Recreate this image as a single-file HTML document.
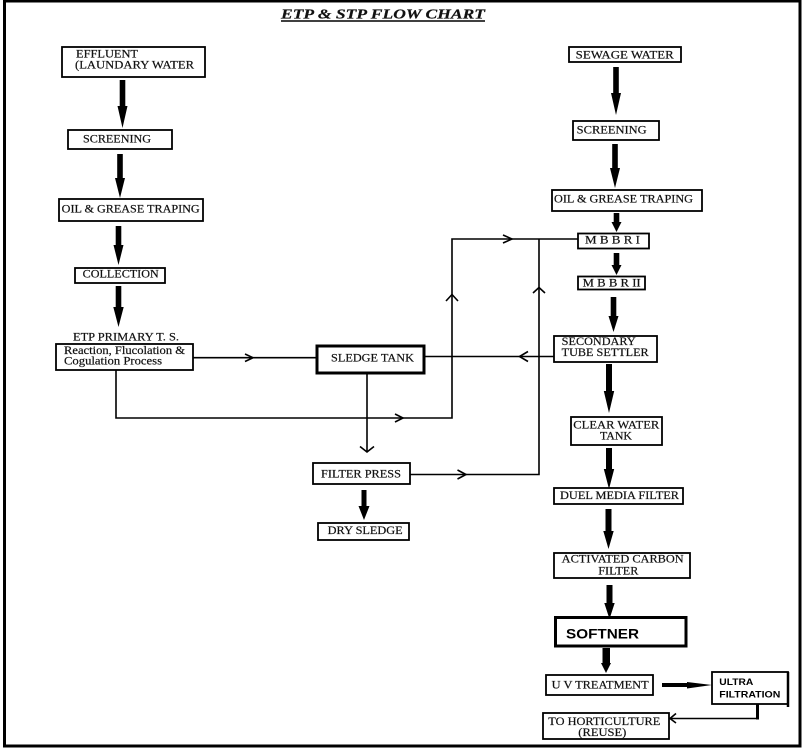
<!DOCTYPE html>
<html>
<head>
<meta charset="utf-8">
<style>
html,body{margin:0;padding:0;background:#fff;}
svg{display:block;}
text{font-family:"Liberation Serif",serif;fill:#111;stroke:#111;stroke-width:0.2;}
.s{font-family:"Liberation Sans",sans-serif;font-weight:bold;fill:#000;stroke:none;}
</style>
</head>
<body>
<svg width="805" height="748" viewBox="0 0 805 748" xmlns="http://www.w3.org/2000/svg">
<rect x="0" y="0" width="805" height="748" fill="#fff"/>
<!-- outer border -->
<rect x="4.5" y="1" width="795.5" height="745" fill="none" stroke="#000" stroke-width="3"/>

<!-- title -->
<text x="281" y="18.5" font-size="14" font-weight="bold" font-style="italic" textLength="204" lengthAdjust="spacingAndGlyphs">ETP &amp; STP FLOW CHART</text>
<line x1="281" y1="21" x2="485" y2="21" stroke="#000" stroke-width="1.6"/>

<g fill="none" stroke="#000" stroke-width="1.8">
<!-- left boxes -->
<rect x="62" y="47" width="143" height="30"/>
<rect x="68" y="130" width="104" height="19"/>
<rect x="59" y="199" width="144" height="22"/>
<rect x="75" y="268" width="90" height="15"/>
<rect x="56" y="344" width="137" height="26"/>
<rect x="313" y="463" width="97" height="21"/>
<rect x="318" y="523" width="91" height="17"/>
<!-- right boxes -->
<rect x="569" y="47" width="112" height="15"/>
<rect x="573" y="121" width="86" height="19"/>
<rect x="552" y="190" width="150" height="21"/>
<rect x="578" y="233.5" width="71" height="15"/>
<rect x="578" y="276.5" width="67" height="13"/>
<rect x="554" y="336" width="103" height="26"/>
<rect x="571" y="417" width="91" height="28"/>
<rect x="554" y="488" width="129" height="16"/>
<rect x="554" y="553" width="136" height="25"/>
<rect x="546" y="675" width="107" height="20"/>
<rect x="712" y="672" width="76" height="32"/>
<rect x="543" y="713" width="126" height="26"/>
</g>
<!-- thick boxes -->
<rect x="317" y="346" width="107" height="27" fill="none" stroke="#000" stroke-width="3"/>
<rect x="555.5" y="617.5" width="130.5" height="28.5" fill="none" stroke="#000" stroke-width="3"/>
<line x1="788" y1="672" x2="788" y2="707" stroke="#000" stroke-width="2.5"/>

<!-- thin connector lines -->
<g fill="none" stroke="#000" stroke-width="1.6">
<polyline points="193,357.7 317,357.7"/>
<polyline points="116,370 116,418 452,418 452,239 578,239"/>
<polyline points="424,356.5 554,356.5"/>
<polyline points="367,373 367,452"/>
<polyline points="410,474.5 539,474.5 539,239"/>
<polyline points="669,718.5 758,718.5"/>
<!-- chevrons -->
<polyline points="245,354 253,357.7 245,361.5"/>
<polyline points="395,414 403,418 395,422"/>
<polyline points="446,301 452,294.5 458,301"/>
<polyline points="503,235 512,239 503,243"/>
<polyline points="533,293 539,287.5 545,293"/>
<polyline points="528,351.5 519.5,356.5 528,361.5"/>
<polyline points="360,446.5 367,452 374,446.5"/>
<polyline points="457.5,470 466,474.5 457.5,479"/>
<polyline points="676,713.5 670,718.5 676,723"/>
</g>
<line x1="757.5" y1="704" x2="757.5" y2="719.5" stroke="#000" stroke-width="3"/>

<!-- thick block arrows -->
<g fill="#000">
<polygon points="119.7,80 125.3,80 125.3,106 127.5,106 122.5,128 117.5,106 119.7,106"/>
<polygon points="117.2,154 122.8,154 122.8,178 125,178 120,198 115,178 117.2,178"/>
<polygon points="115.7,226 121.3,226 121.3,245 123.5,245 118.5,265 113.5,245 115.7,245"/>
<polygon points="115.7,286 121.3,286 121.3,307 123.7,307 118.5,327 113.3,307 115.7,307"/>
<polygon points="361.5,490 366.5,490 366.5,506 369.5,506 364,520 358.5,506 361.5,506"/>
<polygon points="613.2,67 618.8,67 618.8,93 621,93 616,115 611,93 613.2,93"/>
<polygon points="612.2,144 617.8,144 617.8,168 620,168 615,188 610,168 612.2,168"/>
<polygon points="613.7,213 619.3,213 619.3,222 621.5,222 616.5,232 611.5,222 613.7,222"/>
<polygon points="613.7,253 619.3,253 619.3,265 621.5,265 616.5,275 611.5,265 613.7,265"/>
<polygon points="610.7,297 616.3,297 616.3,316 618.5,316 613.5,332 608.5,316 610.7,316"/>
<polygon points="606,364 612,364 612,391 614.2,391 609,413 603.8,391 606,391"/>
<polygon points="606,448 612,448 612,469 614.2,469 609,489 603.8,469 606,469"/>
<polygon points="605.5,509 611.5,509 611.5,531 613.7,531 608.5,549 603.3,531 605.5,531"/>
<polygon points="606.5,585 612.5,585 612.5,603 614.7,603 609.5,619 604.3,603 606.5,603"/>
<polygon points="602.5,648 610,648 610,663 611,663 606,673 601,663 602.5,663"/>
<polygon points="662,683 687,683 687,682 712,685 687,688.5 687,687 662,687"/>
</g>

<!-- left texts -->
<text x="76" y="57.5" font-size="11.5" textLength="62" lengthAdjust="spacingAndGlyphs">EFFLUENT</text>
<text x="75" y="68.5" font-size="11.5" textLength="119" lengthAdjust="spacingAndGlyphs">(LAUNDARY WATER</text>
<text x="83" y="142.3" font-size="11.5" textLength="68" lengthAdjust="spacingAndGlyphs">SCREENING</text>
<text x="61.7" y="212.3" font-size="11.5" textLength="138" lengthAdjust="spacingAndGlyphs">OIL &amp; GREASE TRAPING</text>
<text x="82.7" y="277.7" font-size="11.5" textLength="76" lengthAdjust="spacingAndGlyphs">COLLECTION</text>
<text x="73" y="340.7" font-size="11.5" textLength="106" lengthAdjust="spacingAndGlyphs">ETP PRIMARY T. S.</text>
<text x="64" y="354" font-size="11.5" textLength="121" lengthAdjust="spacingAndGlyphs">Reaction, Flucolation &amp;</text>
<text x="64" y="364.5" font-size="11.5" textLength="98" lengthAdjust="spacingAndGlyphs">Cogulation Process</text>
<text x="331" y="361.7" font-size="11.5" textLength="83" lengthAdjust="spacingAndGlyphs">SLEDGE TANK</text>
<text x="321" y="477.3" font-size="11.5" textLength="80" lengthAdjust="spacingAndGlyphs">FILTER PRESS</text>
<text x="327.7" y="534" font-size="11.5" textLength="75" lengthAdjust="spacingAndGlyphs">DRY SLEDGE</text>

<!-- right texts -->
<text x="575.7" y="58.3" font-size="11.5" textLength="98" lengthAdjust="spacingAndGlyphs">SEWAGE WATER</text>
<text x="576.7" y="133.3" font-size="11.5" textLength="70" lengthAdjust="spacingAndGlyphs">SCREENING</text>
<text x="554" y="202.3" font-size="11.5" textLength="139" lengthAdjust="spacingAndGlyphs">OIL &amp; GREASE TRAPING</text>
<text x="585" y="243.5" font-size="11.5" textLength="55" lengthAdjust="spacingAndGlyphs">M B B R I</text>
<text x="582.7" y="286.5" font-size="11.5" textLength="58" lengthAdjust="spacingAndGlyphs">M B B R II</text>
<text x="561.7" y="345" font-size="11.5" textLength="74" lengthAdjust="spacingAndGlyphs">SECONDARY</text>
<text x="561.7" y="356" font-size="11.5" textLength="87" lengthAdjust="spacingAndGlyphs">TUBE SETTLER</text>
<text x="573.3" y="428.3" font-size="11.5" textLength="86" lengthAdjust="spacingAndGlyphs">CLEAR WATER</text>
<text x="600" y="439.3" font-size="11.5" textLength="32" lengthAdjust="spacingAndGlyphs">TANK</text>
<text x="560" y="499" font-size="11.5" textLength="119" lengthAdjust="spacingAndGlyphs">DUEL MEDIA FILTER</text>
<text x="561.7" y="562.3" font-size="11.5" textLength="122" lengthAdjust="spacingAndGlyphs">ACTIVATED CARBON</text>
<text x="598.3" y="574.3" font-size="11.5" textLength="40" lengthAdjust="spacingAndGlyphs">FILTER</text>
<text class="s" x="566" y="638.3" font-size="14" textLength="73" lengthAdjust="spacingAndGlyphs">SOFTNER</text>
<text x="551.7" y="688.3" font-size="11.5" textLength="97" lengthAdjust="spacingAndGlyphs">U V TREATMENT</text>
<text class="s" x="719.3" y="685" font-size="9" textLength="34" lengthAdjust="spacingAndGlyphs">ULTRA</text>
<text class="s" x="719.3" y="697.3" font-size="9" textLength="61" lengthAdjust="spacingAndGlyphs">FILTRATION</text>
<text x="548.3" y="725" font-size="11.5" textLength="112" lengthAdjust="spacingAndGlyphs">TO HORTICULTURE</text>
<text x="578.3" y="736" font-size="11.5" textLength="48" lengthAdjust="spacingAndGlyphs">(REUSE)</text>
</svg>
</body>
</html>
